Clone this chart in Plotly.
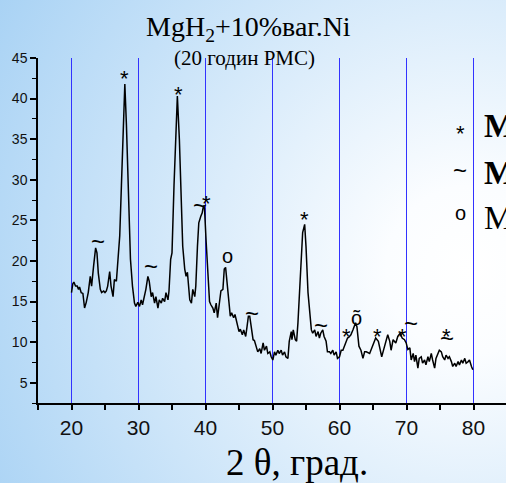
import base64
import plotly.graph_objects as go

# ---- data ----
two_theta = [
    20.0, 20.2, 20.35, 20.6, 20.85, 21.05, 21.2, 21.45, 21.7, 21.95, 22.2, 22.5, 22.8, 23.0, 23.3, 23.6, 23.8, 24.0,
    24.3, 24.5, 24.8, 25.0, 25.2, 25.4, 25.7, 25.9, 26.2, 26.4, 26.7, 26.9, 27.2, 27.45, 27.7, 27.96, 28.2, 28.45,
    28.8, 29.1, 29.4, 29.6, 29.9, 30.15, 30.4, 30.6, 30.9, 31.1, 31.4, 31.6, 31.9, 32.1, 32.4, 32.6, 32.9, 33.1,
    33.4, 33.6, 33.9, 34.1, 34.4, 34.55, 34.8, 35.0, 35.3, 35.55, 35.8, 36.1, 36.4, 36.6, 36.9, 37.1, 37.3, 37.5,
    37.65, 37.9, 38.1, 38.4, 38.55, 38.8, 39.0, 39.3, 39.5, 39.7, 39.85, 40.1, 40.35, 40.6, 40.8, 41.1, 41.3, 41.6,
    41.8, 42.1, 42.3, 42.6, 42.8, 43.0, 43.2, 43.4, 43.7, 43.9, 44.2, 44.4, 44.7, 45.0, 45.2, 45.5, 45.7, 46.0,
    46.2, 46.4, 46.6, 46.8, 47.1, 47.3, 47.6, 47.8, 48.1, 48.3, 48.6, 48.8, 49.1, 49.3, 49.6, 49.8, 50.05, 50.3,
    50.5, 50.8, 51.0, 51.3, 51.5, 51.8, 52.0, 52.3, 52.5, 52.8, 52.9, 53.1, 53.4, 53.6, 53.8, 54.0, 54.3, 54.5,
    54.8, 55.0, 55.3, 55.5, 55.8, 56.0, 56.3, 56.5, 56.8, 57.0, 57.2, 57.5, 57.7, 58.0, 58.2, 58.5, 58.7, 59.0,
    59.2, 59.5, 59.7, 60.0, 60.25, 60.5, 60.75, 61.0, 61.2, 61.4, 61.7, 62.0, 62.4, 62.6, 62.9, 63.2, 63.5, 63.75,
    64.0, 64.5, 65.0, 65.4, 65.8, 66.0, 66.3, 66.5, 66.9, 67.2, 67.5, 67.7, 68.0, 68.4, 68.7, 69.05, 69.35, 69.7,
    69.95, 70.2, 70.5, 70.7, 71.0, 71.2, 71.4, 71.7, 71.9, 72.2, 72.4, 72.7, 72.9, 73.2, 73.4, 73.7, 73.9, 74.2,
    74.4, 74.7, 74.9, 75.2, 75.4, 75.7, 75.9, 76.2, 76.4, 76.7, 76.9, 77.2, 77.4, 77.7, 77.9, 78.2, 78.4, 78.7,
    78.9, 79.2, 79.4, 79.7, 79.9,
]
intensity = [
    16.1, 17.2, 17.4, 16.9, 16.9, 16.5, 16.8, 16.1, 16.0, 14.2, 14.9, 16.1, 18.1, 16.9, 19.4, 21.6, 21.0, 18.5,
    16.5, 16.1, 16.3, 16.1, 16.3, 16.9, 18.7, 16.9, 15.6, 17.7, 17.5, 19.8, 23.1, 29.3, 36.7, 41.8, 36.7, 28.4,
    20.2, 16.9, 14.8, 14.4, 14.9, 14.4, 15.2, 14.6, 15.6, 16.5, 18.1, 17.5, 15.6, 16.1, 14.8, 15.6, 14.2, 15.2,
    14.8, 15.4, 15.0, 16.1, 15.2, 16.3, 20.2, 21.0, 29.3, 35.9, 40.3, 35.0, 27.2, 21.8, 19.0, 18.1, 18.6, 16.5,
    15.2, 14.8, 16.5, 15.6, 16.9, 21.8, 24.7, 25.5, 25.9, 26.8, 26.5, 22.3, 18.1, 15.0, 14.6, 14.2, 13.6, 14.8,
    13.0, 15.2, 16.3, 16.5, 19.0, 19.2, 17.3, 15.2, 13.2, 13.6, 13.0, 13.4, 12.4, 11.3, 11.6, 10.9, 11.5, 10.7,
    11.9, 13.2, 13.2, 11.9, 10.3, 10.2, 9.5, 8.8, 9.2, 8.6, 9.9, 9.0, 9.5, 8.6, 8.8, 8.2, 7.8, 8.8,
    8.4, 9.0, 8.6, 9.0, 8.4, 8.8, 8.2, 8.0, 10.1, 11.3, 10.3, 11.5, 10.3, 10.1, 12.4, 16.1, 20.2, 23.5,
    24.5, 21.8, 16.1, 14.0, 11.5, 11.1, 11.5, 10.7, 11.3, 10.5, 11.1, 11.5, 10.7, 10.1, 8.8, 8.8, 8.6, 9.0,
    8.4, 8.8, 8.0, 8.2, 9.0, 9.0, 9.5, 9.9, 10.5, 10.6, 10.9, 11.5, 12.4, 11.9, 9.5, 9.0, 8.0, 8.8,
    8.8, 8.6, 9.7, 10.5, 10.1, 9.3, 8.2, 8.8, 10.1, 10.9, 10.1, 9.0, 10.3, 9.9, 10.7, 11.1, 10.5, 10.3,
    9.9, 9.1, 9.3, 7.8, 8.6, 7.6, 8.4, 6.8, 8.0, 8.2, 7.4, 7.8, 7.2, 8.2, 7.6, 8.6, 7.8, 6.8,
    8.0, 8.6, 9.0, 8.8, 8.2, 7.8, 8.4, 8.0, 8.2, 7.6, 7.0, 7.4, 7.0, 7.6, 7.2, 7.8, 7.4, 8.0,
    7.4, 7.6, 7.8, 7.0, 6.6,
]

# peak marks: symbol, 2theta, intensity of mark
mark_symbols = ["*", "*", "*", "~", "~", "~", "o", "~", "*", "~", "*", "õ", "*", "*", "~", "*", "~"]
mark_x = [27.95, 35.9, 40.1, 39.2, 24.0, 31.9, 43.3, 47.0, 54.8, 57.3, 61.0, 62.5, 65.7, 69.4, 70.6, 75.9, 76.0]
mark_y = [43.3, 41.4, 28.0, 26.4, 22.0, 19.0, 20.3, 13.2, 26.0, 11.7, 11.5, 13.0, 11.5, 11.5, 11.9, 11.5, 10.1]

legend_symbols = ["*", "~", "o"]
legend_labels = ["<b>MgH<sub>2</sub></b>", "<b>Mg<sub>2</sub>NiH<sub>4</sub></b>", "MgO"]

title_text = "MgH<sub>2</sub>+10%ваг.Ni"
subtitle_text = "(20 годин РМС)"
x_title = "2 θ, град."

x_tickvals = [20, 30, 40, 50, 60, 70, 80]
y_tickvals = [5, 10, 15, 20, 25, 30, 35, 40, 45]

# ---- figure ----
W, H = 506, 483
ML, MR, MT, MB = 38, 0, 58, 80
pw, ph = W - ML - MR, H - MT - MB

svg = (
    f'<svg xmlns="http://www.w3.org/2000/svg" width="{W}" height="{H}" viewBox="0 0 {W} {H}" preserveAspectRatio="none">'
    '<defs><radialGradient id="g" cx="470" cy="270" r="560" gradientUnits="userSpaceOnUse">'
    '<stop offset="0" stop-color="#ffffff"/><stop offset="0.15" stop-color="#fbfdff"/>'
    '<stop offset="1" stop-color="#a6d1f4"/></radialGradient></defs>'
    f'<rect width="{W}" height="{H}" fill="url(#g)"/></svg>'
)
bg_src = "data:image/svg+xml;base64," + base64.b64encode(svg.encode()).decode()

fig = go.Figure()
fig.add_trace(go.Scatter(x=two_theta, y=intensity, mode="lines",
                         line=dict(color="black", width=1.5), showlegend=False, hoverinfo="skip"))

SANS = "Liberation Sans, Arial, sans-serif"
SERIF = "Liberation Serif, Times New Roman, serif"

sym_size = {"*": 22, "~": 24, "o": 20, "õ": 20}
sym_shift = {"*": -7, "~": 3, "o": 3, "õ": 0}

ann = []
for s, x, y in zip(mark_symbols, mark_x, mark_y):
    ann.append(dict(x=x, y=y, xref="x", yref="y", text=s, showarrow=False,
                    font=dict(family=SANS, size=sym_size[s], color="black"),
                    xanchor="center", yanchor="middle", yshift=sym_shift[s]))

leg_y = [36.6, 30.8, 25.5]
for s, lab, y in zip(legend_symbols, legend_labels, leg_y):
    ann.append(dict(x=78.0, y=y, xref="x", yref="y", text=s, showarrow=False,
                    font=dict(family=SANS, size=sym_size[s], color="black"),
                    xanchor="center", yanchor="middle", yshift=sym_shift[s]))
    ann.append(dict(x=81.2, y=y, xref="x", yref="y", text=lab, showarrow=False,
                    font=dict(family=SERIF, size=33, color="black"),
                    xanchor="left", yanchor="middle", yshift=-2))

ann.append(dict(x=(248 - ML) / pw, y=(H - MB - 28) / ph, xref="paper", yref="paper", text=title_text,
                showarrow=False, font=dict(family=SERIF, size=28, color="black"),
                xanchor="center", yanchor="middle"))
ann.append(dict(x=(244 - ML) / pw, y=(H - MB - 58) / ph, xref="paper", yref="paper", text=subtitle_text,
                showarrow=False, font=dict(family=SERIF, size=21, color="black"),
                xanchor="center", yanchor="middle"))
ann.append(dict(x=(297 - ML) / pw, y=(H - MB - 462) / ph, xref="paper", yref="paper", text=x_title,
                showarrow=False, font=dict(family=SERIF, size=37, color="black"),
                xanchor="center", yanchor="middle"))

fig.update_layout(
    width=W, height=H,
    margin=dict(l=ML, r=MR, t=MT, b=MB, pad=0),
    paper_bgcolor="rgba(0,0,0,0)", plot_bgcolor="rgba(0,0,0,0)",
    images=[dict(source=bg_src, xref="paper", yref="paper", x=-ML / pw, y=1 + MT / ph,
                 sizex=W / pw, sizey=H / ph, sizing="stretch", layer="below", xanchor="left", yanchor="top")],
    annotations=ann,
    showlegend=False,
)
fig.update_xaxes(range=[15, 84.85], showline=True, linecolor="black", linewidth=1.5,
                 tickvals=x_tickvals, ticks="outside", ticklen=5, tickwidth=1.5, tickcolor="black",
                 minor=dict(ticks="outside", ticklen=5, tickwidth=1.5, tickcolor="black", dtick=5, tick0=0, showgrid=False),
                 showgrid=True, gridcolor="rgb(50,50,255)", gridwidth=1.2, zeroline=False,
                 tickfont=dict(family=SANS, size=21, color="#111"))
fig.update_yaxes(range=[2.5, 45], showline=True, linecolor="black", linewidth=1.5,
                 tickvals=y_tickvals, ticks="outside", ticklen=6, tickwidth=1.5, tickcolor="black",
                 minor=dict(ticks="outside", ticklen=4, tickwidth=1.2, tickcolor="black", dtick=2.5, tick0=0, showgrid=False),
                 showgrid=False, zeroline=False,
                 tickfont=dict(family=SANS, size=14, color="#111"))

fig.write_html("out.html", config={"displayModeBar": False},
               post_script="document.body.style.margin='0';document.body.style.overflow='hidden';")
